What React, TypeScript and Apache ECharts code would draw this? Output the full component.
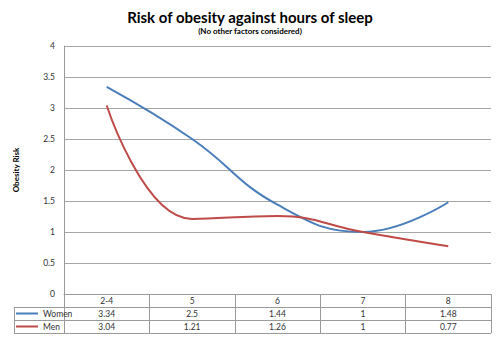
import React, { useEffect, useRef } from "react";
import * as echarts from "echarts";

const categories = ["2-4", "5", "6", "7", "8"];
const women = [3.34, 2.5, 1.44, 1, 1.48];
const men = [3.04, 1.21, 1.26, 1, 0.77];
const yTicks = [0, 0.5, 1, 1.5, 2, 2.5, 3, 3.5, 4];

const FONT = "Lato, 'Open Sans', sans-serif";
const GRID = { left: 64, right: 9, top: 46, bottom: 45 };
const W = 500, H = 339;
const ROW = 13;

export default function App() {
  const ref = useRef<HTMLDivElement>(null);
  useEffect(() => {
    const chart = echarts.init(ref.current!, undefined, { renderer: "svg" });
    const plotBottom = H - GRID.bottom;
    const plotRight = W - GRID.right;
    const lineStyle = { stroke: "#9a9a9a", lineWidth: 1 };
    const tableLines: any[] = [];
    [1, 2, 3].forEach((r) => {
      const y = plotBottom + r * ROW + 0.5;
      tableLines.push({ type: "line", shape: { x1: 14, y1: y, x2: plotRight, y2: y }, style: lineStyle, silent: true });
    });
    tableLines.push({
      type: "line",
      shape: { x1: 14.5, y1: plotBottom + ROW, x2: 14.5, y2: plotBottom + 3 * ROW + 0.5 },
      style: lineStyle,
      silent: true,
    });
    chart.setOption({
      animation: false,
      backgroundColor: "#ffffff",
      title: {
        text: "Risk of obesity against hours of sleep",
        subtext: "(No other factors considered)",
        left: "center",
        top: 4,
        itemGap: 3,
        textStyle: { fontFamily: FONT, fontSize: 15, fontWeight: "bold", color: "#000" },
        subtextStyle: { fontFamily: FONT, fontSize: 8, fontWeight: "bold", color: "#000" },
      },
      legend: {
        data: ["Women", "Men"],
        orient: "vertical",
        left: 16,
        top: plotBottom + ROW + 1,
        padding: 0,
        itemWidth: 22,
        itemHeight: 2,
        itemGap: 2,
        icon: "rect",
        textStyle: { fontFamily: FONT, fontSize: 8.5, color: "#333", lineHeight: 11 },
      },
      grid: { left: GRID.left, right: GRID.right, top: GRID.top, bottom: GRID.bottom },
      graphic: tableLines,
      xAxis: {
        type: "category",
        data: categories,
        boundaryGap: true,
        axisLine: { lineStyle: { color: "#9a9a9a" } },
        axisTick: { show: true, length: 3 * ROW, lineStyle: { color: "#9a9a9a" } },
        axisLabel: {
          margin: 0,
          fontFamily: FONT,
          fontSize: 8.5,
          color: "#333",
          lineHeight: ROW,
          formatter: (v: string, i: number) => `${v}\n${women[i]}\n${men[i]}`,
        },
      },
      yAxis: {
        type: "value",
        min: 0,
        max: 4,
        interval: 0.5,
        name: "Obesity Risk",
        nameLocation: "middle",
        nameRotate: 90,
        nameGap: 44,
        nameTextStyle: { fontFamily: FONT, fontSize: 8, fontWeight: "bold", color: "#000" },
        axisLine: { show: true, lineStyle: { color: "#9a9a9a" } },
        axisTick: { show: false },
        axisLabel: {
          fontFamily: FONT,
          fontSize: 8.5,
          color: "#333",
          margin: 9,
          formatter: (v: number) => (yTicks.includes(v) ? String(v) : ""),
        },
        splitLine: { lineStyle: { color: "#a6a6a6" } },
      },
      series: [
        {
          name: "Women",
          type: "line",
          data: women,
          smooth: 0.45,
          showSymbol: false,
          color: "#4a7ebb",
          lineStyle: { width: 2, color: "#4a7ebb" },
        },
        {
          name: "Men",
          type: "line",
          data: men,
          smooth: 0.45,
          showSymbol: false,
          color: "#be4b48",
          lineStyle: { width: 2, color: "#be4b48" },
        },
      ],
    });
    return () => chart.dispose();
  }, []);
  return <div ref={ref} style={{ width: W, height: H, position: "absolute", left: 0, top: 0 }} />;
}
